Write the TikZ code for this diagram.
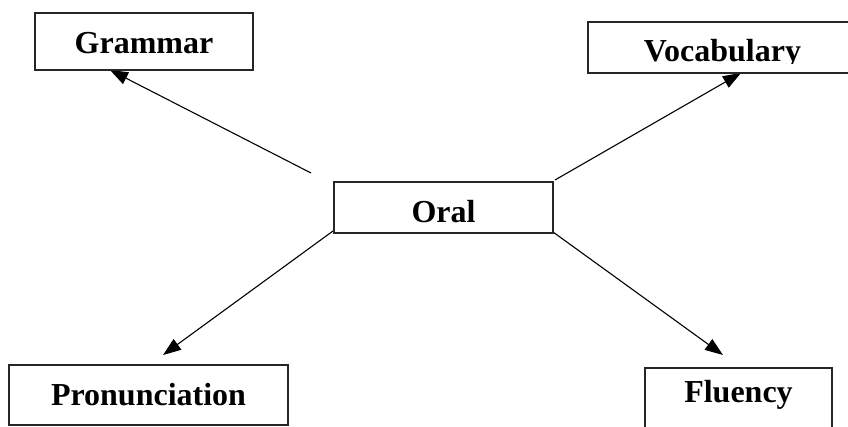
\documentclass[tikz,border=0pt]{standalone}
\usepackage{fontspec}
\setmainfont{Liberation Serif}
\usetikzlibrary{arrows.meta}
\begin{document}
\begin{tikzpicture}[x=1pt,y=-1pt,
  lbl/.style={font=\fontsize{32}{38}\selectfont\bfseries},
  box/.style={lbl, draw=black!85, line width=1.4pt, fill=white, inner sep=0pt},
  arr/.style={line width=1.1pt, -{Triangle[length=18pt,width=13pt]}}]
\useasboundingbox (0,0) rectangle (848,427);
% connector end points
\coordinate (gs) at (311,173); \coordinate (ge) at (110,70);
\coordinate (vs) at (555,180); \coordinate (ve) at (741,73);
\coordinate (ps) at (333,231); \coordinate (pe) at (163,355);
\coordinate (fs) at (553,232); \coordinate (fe) at (723,355);
\draw[arr] (gs) -- (ge);
\draw[arr] (vs) -- (ve);
\draw[arr] (ps) -- (pe);
\draw[arr] (fs) -- (fe);
% boxes
\node[box, minimum width=218pt, minimum height=57pt, text height=25pt, text depth=0pt] (gram) at (144,41.5) {Grammar};
\node[box, minimum width=269pt, minimum height=51pt] (voc) at (722.5,47.5) {};
\begin{scope}
  \clip (588,22) rectangle (848,64);
  \node[lbl, anchor=base, inner sep=0pt] (voct) at (722.5,62) {Vocabulary};
\end{scope}
\node[box, minimum width=219pt, minimum height=51pt, text height=31pt, text depth=0pt] (oral) at (443.5,207.5) {Oral};
\node[box, minimum width=279pt, minimum height=60pt, text height=20pt, text depth=0pt] (pron) at (148.5,395) {Pronunciation};
\node[box, minimum width=187pt, minimum height=64pt, text height=4pt, text depth=0pt] (flu) at (738.5,400) {Fluency};
\end{tikzpicture}
\end{document}
